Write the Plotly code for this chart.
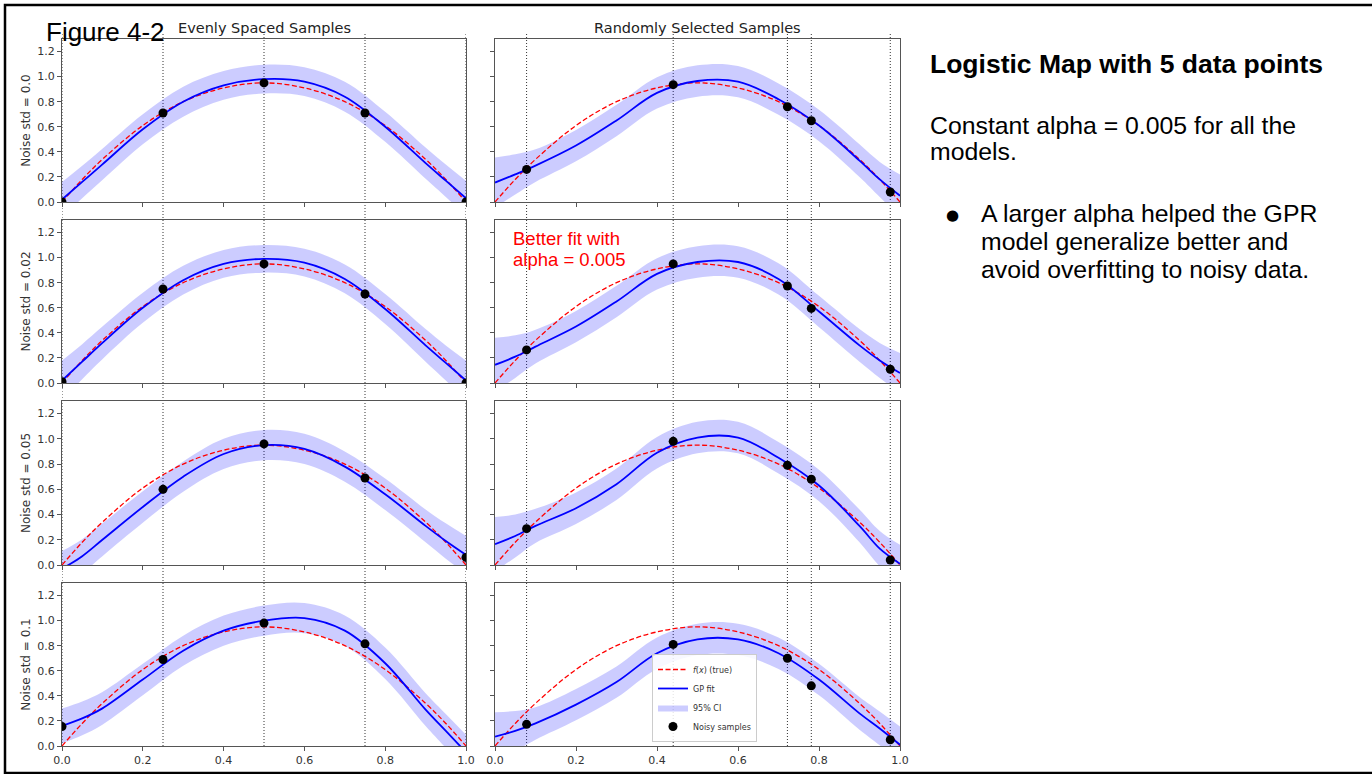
import plotly.graph_objects as go

W, H = 1372, 774

# Evaluation grid for the curves
XG = [0.0, 0.05, 0.1, 0.2, 0.3, 0.4, 0.5, 0.6, 0.7, 0.8, 0.9, 0.95, 1.0]

# True logistic-map curve f(x)
TRUE_Y = [0.0, 0.18, 0.34, 0.61, 0.80, 0.91, 0.95, 0.91, 0.80, 0.61, 0.34, 0.18, 0.0]

NOISE_LABELS = ["Noise std = 0.0", "Noise std = 0.02", "Noise std = 0.05", "Noise std = 0.1"]
COL_TITLES = ["Evenly Spaced Samples", "Randomly Selected Samples"]

# Evenly spaced training samples
X_EVEN = [0.0, 0.25, 0.5, 0.75, 1.0]
Y_EVEN_00 = [0.0, 0.71, 0.95, 0.71, 0.0]
Y_EVEN_02 = [0.01, 0.75, 0.95, 0.71, 0.0]
Y_EVEN_05 = [-0.05, 0.60, 0.96, 0.69, 0.06]
Y_EVEN_10 = [0.155, 0.69, 0.98, 0.815, -0.06]

# GP mean and 95% half-width, evenly spaced samples
FIT_EVEN_00 = [0.02, 0.16, 0.30, 0.58, 0.80, 0.93, 0.98, 0.96, 0.84, 0.60, 0.31, 0.17, 0.03]
FIT_EVEN_02 = [0.02, 0.17, 0.32, 0.60, 0.82, 0.95, 0.99, 0.96, 0.83, 0.59, 0.30, 0.16, 0.02]
FIT_EVEN_05 = [-0.03, 0.07, 0.20, 0.46, 0.70, 0.88, 0.95, 0.92, 0.78, 0.56, 0.31, 0.19, 0.08]
FIT_EVEN_10 = [0.16, 0.22, 0.30, 0.53, 0.76, 0.92, 1.00, 1.02, 0.92, 0.66, 0.29, 0.12, -0.05]
HW_EVEN_00 = [0.14, 0.13, 0.125, 0.12, 0.12, 0.115, 0.115, 0.115, 0.12, 0.12, 0.125, 0.13, 0.14]
HW_EVEN_02 = [0.16, 0.14, 0.13, 0.12, 0.115, 0.11, 0.11, 0.11, 0.115, 0.12, 0.13, 0.14, 0.16]
HW_EVEN_05 = [0.14, 0.135, 0.13, 0.125, 0.12, 0.12, 0.12, 0.12, 0.12, 0.125, 0.13, 0.14, 0.15]
HW_EVEN_10 = [0.14, 0.135, 0.13, 0.125, 0.12, 0.12, 0.12, 0.12, 0.12, 0.125, 0.13, 0.135, 0.14]

# Randomly selected training samples
X_RAND = [0.078, 0.44, 0.722, 0.781, 0.976]
Y_RAND_00 = [0.26, 0.936, 0.76, 0.648, 0.08]
Y_RAND_02 = [0.264, 0.95, 0.774, 0.595, 0.11]
Y_RAND_05 = [0.288, 0.98, 0.79, 0.68, 0.04]
Y_RAND_10 = [0.173, 0.81, 0.70, 0.48, 0.05]

# GP mean and 95% half-width, random samples
FIT_RAND_00 = [0.155, 0.22, 0.29, 0.45, 0.65, 0.87, 0.965, 0.96, 0.82, 0.61, 0.33, 0.18, 0.05]
FIT_RAND_02 = [0.145, 0.21, 0.29, 0.45, 0.65, 0.87, 0.965, 0.965, 0.83, 0.57, 0.30, 0.18, 0.08]
FIT_RAND_05 = [0.165, 0.23, 0.31, 0.45, 0.64, 0.89, 1.01, 1.01, 0.85, 0.63, 0.31, 0.13, 0.01]
FIT_RAND_10 = [0.075, 0.12, 0.18, 0.33, 0.51, 0.74, 0.85, 0.85, 0.74, 0.53, 0.26, 0.14, 0.01]
HW_RAND_00 = [0.20, 0.16, 0.13, 0.125, 0.125, 0.125, 0.125, 0.125, 0.125, 0.125, 0.13, 0.14, 0.17]
HW_RAND_02 = [0.215, 0.17, 0.135, 0.125, 0.125, 0.125, 0.125, 0.125, 0.125, 0.125, 0.13, 0.14, 0.16]
HW_RAND_05 = [0.215, 0.17, 0.135, 0.125, 0.125, 0.125, 0.125, 0.125, 0.125, 0.125, 0.13, 0.14, 0.15]
HW_RAND_10 = [0.195, 0.16, 0.13, 0.125, 0.125, 0.125, 0.125, 0.125, 0.125, 0.125, 0.13, 0.135, 0.145]

COLUMNS = [
    (X_EVEN, [Y_EVEN_00, Y_EVEN_02, Y_EVEN_05, Y_EVEN_10],
     [FIT_EVEN_00, FIT_EVEN_02, FIT_EVEN_05, FIT_EVEN_10],
     [HW_EVEN_00, HW_EVEN_02, HW_EVEN_05, HW_EVEN_10]),
    (X_RAND, [Y_RAND_00, Y_RAND_02, Y_RAND_05, Y_RAND_10],
     [FIT_RAND_00, FIT_RAND_02, FIT_RAND_05, FIT_RAND_10],
     [HW_RAND_00, HW_RAND_02, HW_RAND_05, HW_RAND_10]),
]

X_TICKS = [0.0, 0.2, 0.4, 0.6, 0.8, 1.0]
Y_TICKS = [0.0, 0.2, 0.4, 0.6, 0.8, 1.0, 1.2]

# Panel placement in pixels (top, bottom) / (left, right)
ROW_PX = [(39, 202), (220, 383), (401, 565), (583, 746)]
COL_PX = [(62, 466), (495, 900)]


def fx(p):
    return p / W


def fy(p):
    return 1 - p / H


MPL_FONT = "DejaVu Sans"
SLIDE_FONT = "Liberation Sans, Arial, sans-serif"
SPINE = "#555555"
TICK_TXT = "#333333"
BAND = "rgba(0,0,255,0.2)"

fig = go.Figure()
layout_axes = {}
shapes = []

for c, (xs, ys_rows, fit_rows, hw_rows) in enumerate(COLUMNS):
    for r in range(4):
        k = r * 2 + c + 1
        xa = "x" if k == 1 else f"x{k}"
        ya = "y" if k == 1 else f"y{k}"
        show = k == 1
        fit = fit_rows[r]
        hw = hw_rows[r]
        lower = [f - h for f, h in zip(fit, hw)]
        upper = [f + h for f, h in zip(fit, hw)]

        fig.add_trace(go.Scatter(
            x=XG, y=lower, mode="lines", line=dict(width=0, shape="spline"),
            showlegend=False, hoverinfo="skip", xaxis=xa, yaxis=ya, legendgroup="ci"))
        fig.add_trace(go.Scatter(
            x=XG, y=upper, mode="lines", line=dict(width=0, shape="spline"),
            fill="tonexty", fillcolor=BAND, name="95% CI", legendgroup="ci",
            legendrank=3, showlegend=show, xaxis=xa, yaxis=ya))
        fig.add_trace(go.Scatter(
            x=XG, y=TRUE_Y, mode="lines",
            line=dict(color="#ff0000", width=1.3, dash="5px,2.5px", shape="spline"),
            name="<i>f</i>(<i>x</i>) (true)", legendgroup="true", legendrank=1,
            showlegend=show, xaxis=xa, yaxis=ya))
        fig.add_trace(go.Scatter(
            x=XG, y=fit, mode="lines",
            line=dict(color="#0000ff", width=1.8, shape="spline"),
            name="GP fit", legendgroup="fit", legendrank=2,
            showlegend=show, xaxis=xa, yaxis=ya))
        fig.add_trace(go.Scatter(
            x=xs, y=ys_rows[r], mode="markers",
            marker=dict(color="black", size=9),
            name="Noisy samples", legendgroup="pts", legendrank=4,
            showlegend=show, xaxis=xa, yaxis=ya))

        top, bot = ROW_PX[r]
        left, right = COL_PX[c]
        xkey = "xaxis" if k == 1 else f"xaxis{k}"
        ykey = "yaxis" if k == 1 else f"yaxis{k}"
        layout_axes[xkey] = dict(
            domain=[fx(left), fx(right)], anchor=ya, range=[0, 1],
            showline=True, mirror=True, linecolor=SPINE, linewidth=1,
            ticks="outside", ticklen=4, tickcolor=SPINE, tickwidth=1,
            tickvals=X_TICKS, ticktext=[f"{v:.1f}" for v in X_TICKS],
            showticklabels=(r == 3), showgrid=False, zeroline=False,
            automargin=False,
            tickfont=dict(family=MPL_FONT, size=11, color=TICK_TXT))
        ycfg = dict(
            domain=[fy(bot), fy(top)], anchor=xa, range=[0, 1.3],
            showline=True, mirror=True, linecolor=SPINE, linewidth=1,
            ticks="outside", ticklen=4, tickcolor=SPINE, tickwidth=1,
            tickvals=Y_TICKS, ticktext=[f"{v:.1f}" for v in Y_TICKS],
            showticklabels=(c == 0), showgrid=False, zeroline=False,
            automargin=False,
            tickfont=dict(family=MPL_FONT, size=11, color=TICK_TXT))
        if c == 0:
            ycfg["title"] = dict(text=NOISE_LABELS[r], standoff=4,
                                 font=dict(family=MPL_FONT, size=12, color=TICK_TXT))
        layout_axes[ykey] = ycfg

    # dotted guides at each sample location, spanning the whole column
    col_x = "x" if c == 0 else "x2"
    for xv in xs:
        shapes.append(dict(
            type="line", xref=col_x, yref="paper", x0=xv, x1=xv,
            y0=fy(746), y1=fy(33), layer="below",
            line=dict(color="#333333", width=1, dash="1px,2px")))

# slide frame
shapes.append(dict(type="rect", xref="paper", yref="paper",
                   x0=fx(5), x1=fx(W + 10), y0=fy(773), y1=fy(5),
                   line=dict(color="black", width=2.5), layer="above"))

annotations = []
for c, title in enumerate(COL_TITLES):
    left, right = COL_PX[c]
    annotations.append(dict(
        text=title, xref="paper", yref="paper", x=fx((left + right) / 2), y=fy(28),
        xanchor="center", yanchor="middle", showarrow=False,
        font=dict(family=MPL_FONT, size=14.5, color="#222222")))

annotations.append(dict(
    text="Figure 4-2", xref="paper", yref="paper", x=fx(44), y=fy(32),
    xanchor="left", yanchor="middle", showarrow=False,
    font=dict(family=SLIDE_FONT, size=26, color="black")))

annotations.append(dict(
    text="<b>Logistic Map with 5 data points</b>", xref="paper", yref="paper",
    x=fx(928), y=fy(64), xanchor="left", yanchor="middle", showarrow=False,
    font=dict(family=SLIDE_FONT, size=26.5, color="black")))

body_lines = [
    (928, 125, "Constant alpha = 0.005 for all the"),
    (928, 152, "models."),
    (979, 213, "A larger alpha helped the GPR"),
    (979, 241, "model generalize better and"),
    (979, 269, "avoid overfitting to noisy data."),
]
for x0, y0, txt in body_lines:
    annotations.append(dict(
        text=txt, xref="paper", yref="paper", x=fx(x0), y=fy(y0),
        xanchor="left", yanchor="middle", showarrow=False,
        font=dict(family=SLIDE_FONT, size=24.8, color="black")))

annotations.append(dict(
    text="●", xref="paper", yref="paper", x=fx(952), y=fy(215),
    xanchor="center", yanchor="middle", showarrow=False,
    font=dict(family="DejaVu Sans", size=15, color="black")))

for y0, txt in [(238, "Better fit with"), (259, "alpha = 0.005")]:
    annotations.append(dict(
        text=txt, xref="paper", yref="paper", x=fx(511), y=fy(y0),
        xanchor="left", yanchor="middle", showarrow=False,
        font=dict(family=SLIDE_FONT, size=18.5, color="#ff0000")))

fig.update_layout(
    width=W, height=H,
    margin=dict(l=0, r=0, t=0, b=0, autoexpand=False),
    paper_bgcolor="white",
    plot_bgcolor="rgba(0,0,0,0)",
    showlegend=True,
    legend=dict(
        x=fx(652), y=fy(742), xanchor="left", yanchor="bottom",
        bgcolor="rgba(255,255,255,0.85)", bordercolor="#cccccc", borderwidth=1,
        font=dict(family=MPL_FONT, size=8, color="#333333"),
        tracegroupgap=0, itemwidth=30),
    shapes=shapes,
    annotations=annotations,
    **layout_axes,
)

fig.write_html("out.html")
